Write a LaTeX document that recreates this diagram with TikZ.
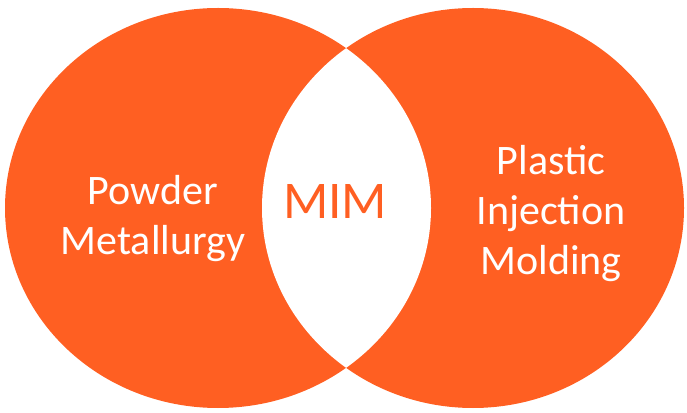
\documentclass[tikz,border=0pt]{standalone}
\usepackage{fontspec}
\setmainfont{Carlito}
\definecolor{mimorange}{RGB}{255,95,34}
\begin{document}
\begin{tikzpicture}[x=1pt,y=1pt,
  lbl/.style={text=white,align=center,font=\fontsize{42}{50}\selectfont,inner sep=0pt,anchor=base},
  mimlbl/.style={text=mimorange,font=\fontsize{53}{60}\selectfont,inner sep=0pt,anchor=base}]
\useasboundingbox (0,0) rectangle (687,412);
\fill[mimorange] (218,204) ellipse [x radius=213, y radius=200];
\fill[mimorange] (473,204) ellipse [x radius=211, y radius=200];
\begin{scope}
  \clip (218,204) ellipse [x radius=213, y radius=200];
  \fill[white] (473,204) ellipse [x radius=211, y radius=200];
\end{scope}
\node[lbl] (pm) at (153,157) {Powder\\Metallurgy};
\node[lbl] (pim) at (551,137) {Plastic\\Injection\\Molding};
\node[mimlbl] (mim) at (335,193) {MIM};
\end{tikzpicture}
\end{document}
